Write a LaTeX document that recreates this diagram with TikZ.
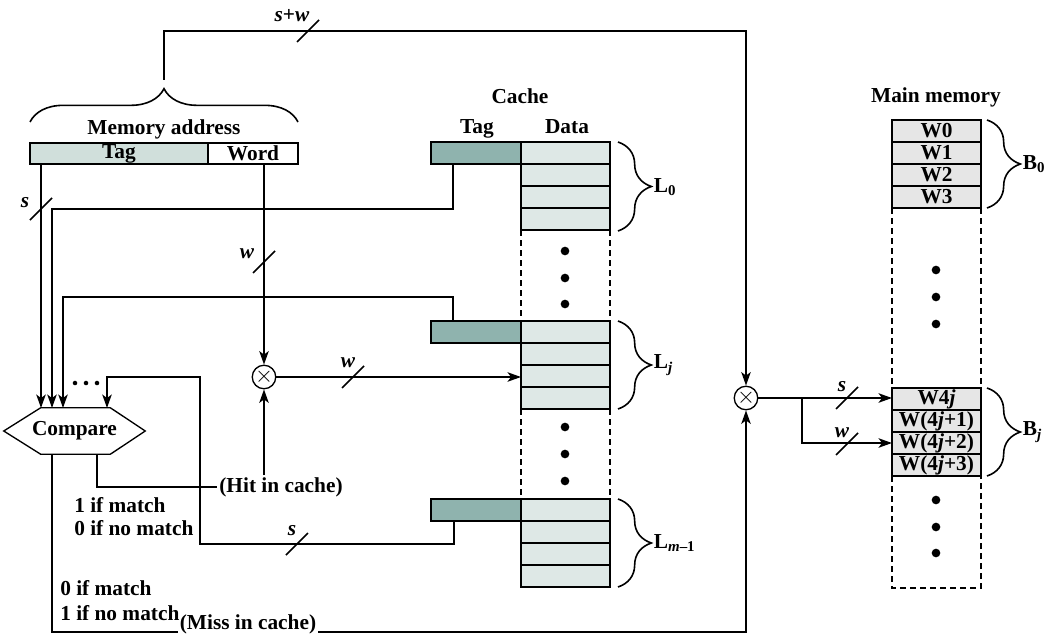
\documentclass[tikz,border=0pt]{standalone}
\usepackage{fontspec}
\setmainfont{Liberation Serif}
\usetikzlibrary{arrows.meta,calc,decorations.pathreplacing}
\definecolor{tagl}{HTML}{D0DFDB}
\definecolor{tagd}{HTML}{8FB3AE}
\definecolor{datac}{HTML}{DEE8E6}
\definecolor{memc}{HTML}{E6E6E6}
\begin{document}
\begin{tikzpicture}[x=0.75pt,y=-0.75pt,
  font=\fontsize{16}{19}\selectfont\bfseries,
  conn/.style={line width=1.6pt},
  arr/.style={conn,-{Stealth[length=10pt,width=7pt,inset=2.5pt]}},
  cell/.style={draw, line width=0.85pt, inner sep=0pt, minimum height=16.5pt, anchor=north west, outer sep=0pt},
  ctag/.style={cell, fill=tagd, minimum width=67.5pt},
  cdata/.style={cell, fill=datac, minimum width=66.75pt},
  mcell/.style={cell, fill=memc, minimum width=66.75pt},
  dashcol/.style={line width=0.8pt, dash pattern=on 4.5pt off 3pt},
  bus/.style={line width=1.1pt},
  lbl/.style={inner sep=0pt, anchor=base},
  bigdot/.style={circle, fill, inner sep=0pt, minimum size=6.5pt},
  smalldot/.style={circle, fill, inner sep=0pt, minimum size=3.4pt},
  xcirc/.style={circle, draw, line width=1pt, minimum size=17.5pt, inner sep=0pt, font=\fontsize{17}{17}\selectfont},
  brc/.style={decorate, decoration={brace, amplitude=25pt}, line width=1.2pt},
]
\useasboundingbox (0,0) rectangle (1058,635);

% ---------- memory address ----------
\node[cell, fill=tagl, minimum width=133.5pt, minimum height=15.75pt] (mtag) at (30,143) {Tag};
\node[cell, fill=white, minimum width=67.5pt, minimum height=15.75pt] (mword) at (208,143) {Word};
\node[lbl] (madr) at (164,135) {Memory address};
\draw[brc] (30,122) -- (298,122);
\coordinate (btip) at (164,80);
\coordinate (ktop) at (746,31);

% ---------- cache ----------
\node[lbl] (cachet) at (520,104) {Cache};
\node[lbl] (ctagt) at (477,133) {Tag};
\node[lbl] (cdatat) at (567,133) {Data};
\foreach \nm/\y in {0/142, j/321, m/499} {
  \node[ctag] (t\nm) at (431,\y) {};
  \foreach \r in {1,...,4} {
    \node[cdata] (d\nm\r) at (521,{\y+(\r-1)*22}) {};
  }
}
\draw[dashcol] (d04.south west) -- (dj1.north west);
\draw[dashcol] (d04.south east) -- (dj1.north east);
\draw[dashcol] (dj4.south west) -- (dm1.north west);
\draw[dashcol] (dj4.south east) -- (dm1.north east);
\foreach \y in {251,278,304,427,454,481} \node[bigdot] at (565,\y) {};
\draw[brc] (618,142) -- (618,231);
\draw[brc] (618,321) -- (618,409);
\draw[brc] (618,499) -- (618,587);
\node[anchor=west, inner sep=2pt] (L0) at (651,187) {L\textsubscript{0}};
\node[anchor=west, inner sep=2pt] (Lj) at (651,365) {L\textsubscript{\textit{j}}};
\node[anchor=west, inner sep=2pt] (Lm) at (651,543) {L\textsubscript{\textit{m}–1}};

% ---------- main memory ----------
\node[lbl] (mmt) at (936,103) {Main memory};
\node[mcell] (w0) at (892,120) {W0};
\node[mcell] (w1) at (892,142) {W1};
\node[mcell] (w2) at (892,164) {W2};
\node[mcell] (w3) at (892,186) {W3};
\node[mcell] (b0) at (892,388) {W4\textit{j}};
\node[mcell] (b1) at (892,410) {W(4\textit{j}+1)};
\node[mcell] (b2) at (892,432) {W(4\textit{j}+2)};
\node[mcell] (b3) at (892,454) {W(4\textit{j}+3)};
\coordinate (mbl) at (892,588);
\coordinate (mbr) at (981,588);
\draw[dashcol] (w3.south west) -- (b0.north west);
\draw[dashcol] (w3.south east) -- (b0.north east);
\draw[dashcol] (b3.south west) -- (mbl) -- (mbr) -- (b3.south east);
\foreach \y in {270,297,324,500,527,553} \node[bigdot] at (936,\y) {};
\draw[brc] (987,120) -- (987,208);
\draw[brc] (987,388) -- (987,476);
\node[anchor=west, inner sep=2pt] (B0) at (1020,164) {B\textsubscript{0}};
\node[anchor=west, inner sep=2pt] (Bj) at (1020,432) {B\textsubscript{\textit{j}}};

% ---------- compare & multiplexers ----------
\node[minimum width=105.75pt, minimum height=34.5pt, inner sep=0pt] (cmp) at (74.5,431) {Compare};
\draw[line width=1pt] (cmp.west) -- ($(cmp.north west)+(37,0)$) -- ($(cmp.north east)+(-35,0)$)
  -- (cmp.east) -- ($(cmp.south east)+(-35,0)$) -- ($(cmp.south west)+(37,0)$) -- cycle;
\coordinate (in1) at (41,408);
\coordinate (in2) at (52,408);
\coordinate (in3) at (63,408);
\coordinate (in4) at (107,408);
\coordinate (co1) at (97,454);
\coordinate (co2) at (52,454);
\foreach \x in {75,86,97} \node[smalldot] at (\x,383) {};

\node[xcirc] (m1) at (264,377) {$\times$};
\node[xcirc] (m2) at (746,398) {$\times$};

\node[inner sep=1.5pt] (hit) at (281,487) {(Hit in cache)};
\node[inner sep=1.5pt] (miss) at (248,624) {(Miss in cache)};

\node[anchor=base west, inner sep=0pt] (t1) at (74,512) {1 if match};
\node[anchor=base west, inner sep=0pt] (t2) at (74,535) {0 if no match};
\node[anchor=base west, inner sep=0pt] (t3) at (60,595) {0 if match};
\node[anchor=base west, inner sep=0pt] (t4) at (60,620) {1 if no match};

% ---------- connectors ----------
\coordinate (k0) at (52,209);
\coordinate (kj) at (63,297);
\coordinate (km1) at (200,544);
\coordinate (km2) at (107,377);
\coordinate (br) at (802,398);
\coordinate (kb) at (52,632);

\draw[arr] (btip) |- (ktop) -- (m2.north);
\draw[arr] (mtag.south -| in1) -- (in1);
\draw[arr] ($(t0.south west)+(22,0)$) |- (k0) -- (in2);
\draw[arr] ($(tj.north west)+(22,0)$) |- (kj) -- (in3);
\draw[arr] ($(tm.south west)+(23,0)$) |- (km1) |- (km2) -- (in4);
\draw[arr] (mword.south -| m1) -- (m1.north);
\draw[arr] (m1.east) -- (m1 -| dj3.west);
\draw[conn] (co1) |- (hit.west);
\draw[arr] (hit.north -| m1) -- (m1.south);
\draw[conn] (co2) -- (kb) -- (kb -| miss.west);
\draw[arr] (kb -| miss.east) -| (m2.south);
\draw[arr] (m2.east) -- (m2 -| b0.west);
\draw[arr] (br) |- (b2.west);

% ---------- bus widths ----------
\foreach \cx/\cy in {308/31, 41/209, 264/262, 353/377, 297/544, 847/398, 847/444}
  \draw[bus] (\cx-11,\cy+11) -- (\cx+11,\cy-11);
\node[lbl] (lsw) at (292,22) {\textit{s}+\textit{w}};
\node[lbl] (ls1) at (25,207) {\textit{s}};
\node[lbl] (lw1) at (247,258) {\textit{w}};
\node[lbl] (lw2) at (348,367) {\textit{w}};
\node[lbl] (ls2) at (292,535) {\textit{s}};
\node[lbl] (ls3) at (842,391) {\textit{s}};
\node[lbl] (lw3) at (842,437) {\textit{w}};
\end{tikzpicture}
\end{document}
